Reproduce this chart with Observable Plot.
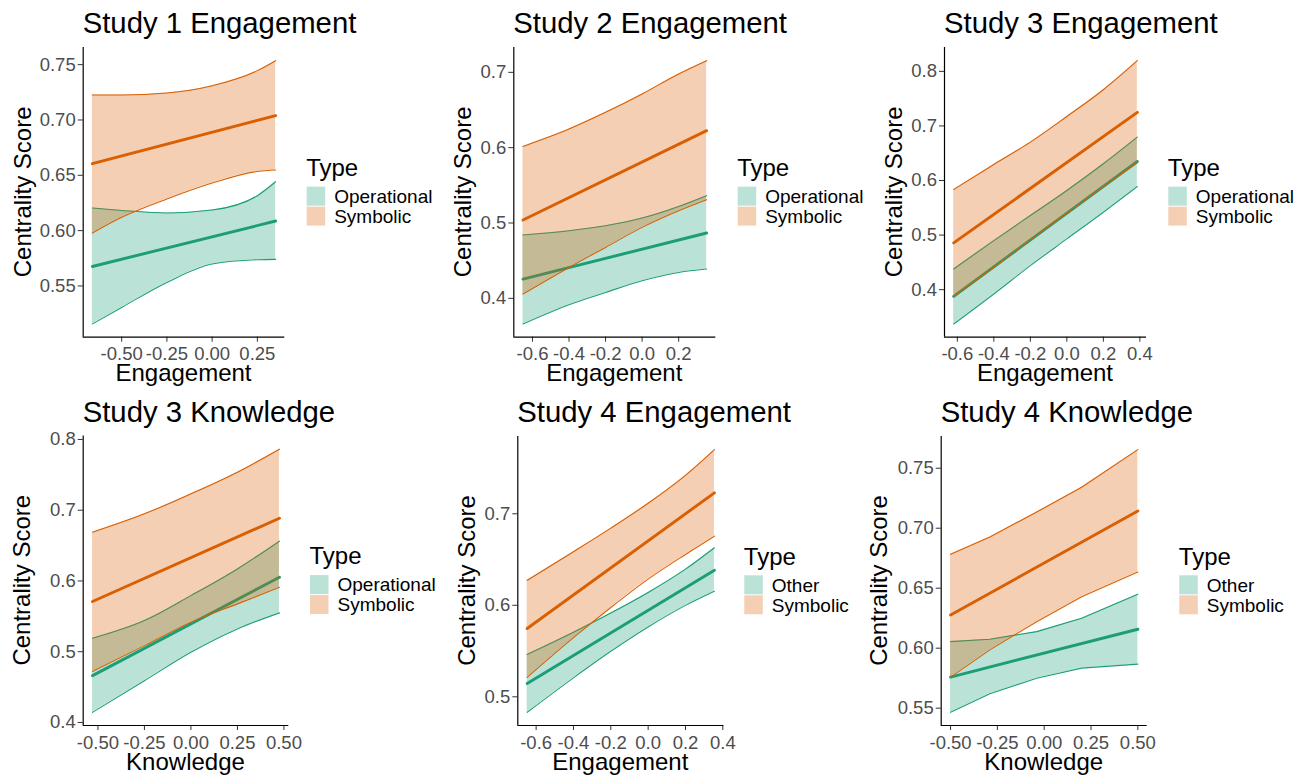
<!DOCTYPE html>
<html>
<head>
<meta charset="utf-8">
<script src="https://cdn.jsdelivr.net/npm/d3@7"></script>
<script src="https://cdn.jsdelivr.net/npm/@observablehq/plot@0.6"></script>
<style>
  body { margin: 0; background: #fff; }
  #fig { position: relative; width: 1310px; height: 778px; overflow: hidden; background: #fff; }
  #fig svg { position: absolute; left: 0; top: 0; }
</style>
</head>
<body>
<div id="fig"></div>
<script>
// ---- Shared categories and colours ----
const typesOperational = ["Operational", "Symbolic"];
const typesOther = ["Other", "Symbolic"];
const typeColors = ["#1B9E77", "#D95F02"];

// ---- Study 1 · Engagement (predicted centrality with 95% CI) ----
const s1eX       = [-0.662, -0.5, -0.25, 0, 0.25, 0.351];
const s1eOpLow   = [0.5156, 0.5306, 0.5532, 0.5698, 0.5737, 0.5740];
const s1eOpHigh  = [0.6204, 0.6182, 0.6160, 0.6186, 0.6316, 0.6442];
const s1eSymLow  = [0.5978, 0.6120, 0.6286, 0.6430, 0.6535, 0.6548];
const s1eSymHigh = [0.7226, 0.7226, 0.7244, 0.7310, 0.7446, 0.7536];
const s1eOpFit   = [0.5676, 0.6087];
const s1eSymFit  = [0.6605, 0.7039];

// ---- Study 2 · Engagement ----
const s2eX       = [-0.652, -0.4, -0.2, 0, 0.2, 0.353];
const s2eOpLow   = [0.3659, 0.3915, 0.4078, 0.4234, 0.4344, 0.4389];
const s2eOpHigh  = [0.4841, 0.4898, 0.4964, 0.5066, 0.5220, 0.5363];
const s2eSymLow  = [0.4057, 0.4410, 0.4676, 0.4942, 0.5163, 0.5310];
const s2eSymHigh = [0.6017, 0.6248, 0.6469, 0.6713, 0.6979, 0.7155];
const s2eOpFit   = [0.4256, 0.4867];
const s2eSymFit  = [0.5040, 0.6226];

// ---- Study 3 · Engagement ----
const s3eX       = [-0.62, -0.4, -0.2, 0, 0.2, 0.386];
const s3eOpLow   = [0.3370, 0.3921, 0.4440, 0.4930, 0.5419, 0.5890];
const s3eOpHigh  = [0.4380, 0.4899, 0.5358, 0.5817, 0.6307, 0.6795];
const s3eSymLow  = [0.3878, 0.4410, 0.4912, 0.5400, 0.5890, 0.6324];
const s3eSymHigh = [0.5835, 0.6294, 0.6703, 0.7174, 0.7664, 0.8196];
const s3eOpFit   = [0.3878, 0.6349];
const s3eSymFit  = [0.4857, 0.7248];

// ---- Study 3 · Knowledge ----
const s3kX       = [-0.529, -0.25, 0, 0.25, 0.476];
const s3kOpLow   = [0.4143, 0.4590, 0.4992, 0.5322, 0.5549];
const s3kOpHigh  = [0.5190, 0.5440, 0.5793, 0.6170, 0.6562];
const s3kSymLow  = [0.4720, 0.5086, 0.5416, 0.5676, 0.5911];
const s3kSymHigh = [0.6689, 0.6949, 0.7232, 0.7538, 0.7863];
const s3kOpFit   = [0.4662, 0.6052];
const s3kSymFit  = [0.5709, 0.6887];

// ---- Study 4 · Engagement ----
const s4eX       = [-0.648, -0.4, -0.2, 0, 0.2, 0.355];
const s4eOpLow   = [0.4830, 0.5207, 0.5497, 0.5763, 0.5999, 0.6154];
const s4eOpHigh  = [0.5462, 0.5705, 0.5915, 0.6140, 0.6395, 0.6629];
const s4eSymLow  = [0.5212, 0.5646, 0.5976, 0.6286, 0.6556, 0.6756];
const s4eSymHigh = [0.6273, 0.6585, 0.6843, 0.7115, 0.7420, 0.7701];
const s4eOpFit   = [0.5146, 0.6382];
const s4eSymFit  = [0.5746, 0.7229];

// ---- Study 4 · Knowledge ----
const s4kX       = [-0.5, -0.29, -0.04, 0.2, 0.5];
const s4kOpLow   = [0.5465, 0.5620, 0.5750, 0.5834, 0.5867];
const s4kOpHigh  = [0.6055, 0.6075, 0.6138, 0.6249, 0.6449];
const s4kSymLow  = [0.5759, 0.5986, 0.6221, 0.6429, 0.6636];
const s4kSymHigh = [0.6783, 0.6927, 0.7135, 0.7342, 0.7655];
const s4kOpFit   = [0.5759, 0.6158];
const s4kSymFit  = [0.6277, 0.7143];

// ---- Tick values ----
const ticksEng25  = [-0.5, -0.25, 0, 0.25];
const ticksEng2   = [-0.6, -0.4, -0.2, 0, 0.2];
const ticksEng4   = [-0.6, -0.4, -0.2, 0, 0.2, 0.4];
const ticksKnow   = [-0.5, -0.25, 0, 0.25, 0.5];
const ticksY1     = [0.55, 0.6, 0.65, 0.7, 0.75];
const ticksY2     = [0.4, 0.5, 0.6, 0.7];
const ticksY3     = [0.4, 0.5, 0.6, 0.7, 0.8];
const ticksY5     = [0.5, 0.6, 0.7];

// Panel layout: plot-area box in page pixels, y-title position, legend x.
const panels = [
  { title: "Study 1 Engagement", xLabel: "Engagement", types: typesOperational,
    x: s1eX, low: [s1eOpLow, s1eSymLow], high: [s1eOpHigh, s1eSymHigh], fit: [s1eOpFit, s1eSymFit],
    xTicks: ticksEng25, xDigits: 2, yTicks: ticksY1, yDigits: 2, curve: "monotone-x",
    box: { l: 82.7, r: 284.3, t: 47, b: 336.7 }, yTitleX: 13.3, keyX: 306.7 },
  { title: "Study 2 Engagement", xLabel: "Engagement", types: typesOperational,
    x: s2eX, low: [s2eOpLow, s2eSymLow], high: [s2eOpHigh, s2eSymHigh], fit: [s2eOpFit, s2eSymFit],
    xTicks: ticksEng2, xDigits: 1, yTicks: ticksY2, yDigits: 1, curve: "monotone-x",
    box: { l: 513.3, r: 715.3, t: 47, b: 336.7 }, yTitleX: 454, keyX: 737.7 },
  { title: "Study 3 Engagement", xLabel: "Engagement", types: typesOperational,
    x: s3eX, low: [s3eOpLow, s3eSymLow], high: [s3eOpHigh, s3eSymHigh], fit: [s3eOpFit, s3eSymFit],
    xTicks: ticksEng4, xDigits: 1, yTicks: ticksY3, yDigits: 1, curve: "monotone-x",
    box: { l: 944, r: 1146, t: 47, b: 336.7 }, yTitleX: 885, keyX: 1168.3 },
  { title: "Study 3 Knowledge", xLabel: "Knowledge", types: typesOperational,
    x: s3kX, low: [s3kOpLow, s3kSymLow], high: [s3kOpHigh, s3kSymHigh], fit: [s3kOpFit, s3kSymFit],
    xTicks: ticksKnow, xDigits: 2, yTicks: ticksY3, yDigits: 1, curve: "monotone-x",
    box: { l: 82.7, r: 288.3, t: 435.5, b: 725 }, yTitleX: 12.7, keyX: 310 },
  { title: "Study 4 Engagement", xLabel: "Engagement", types: typesOther,
    x: s4eX, low: [s4eOpLow, s4eSymLow], high: [s4eOpHigh, s4eSymHigh], fit: [s4eOpFit, s4eSymFit],
    xTicks: ticksEng4, xDigits: 1, yTicks: ticksY5, yDigits: 1, curve: "monotone-x",
    box: { l: 517.3, r: 723.3, t: 436, b: 725 }, yTitleX: 457.3, keyX: 744.3 },
  { title: "Study 4 Knowledge", xLabel: "Knowledge", types: typesOther,
    x: s4kX, low: [s4kOpLow, s4kSymLow], high: [s4kOpHigh, s4kSymHigh], fit: [s4kOpFit, s4kSymFit],
    xTicks: ticksKnow, xDigits: 2, yTicks: ticksY1, yDigits: 2, curve: "linear",
    box: { l: 940.7, r: 1146.7, t: 436, b: 725 }, yTitleX: 870, keyX: 1179.3 }
];

const W = 1310, H = 778;
const FONT = '"Liberation Sans", Arial, Helvetica, sans-serif';
const fig = document.getElementById("fig");

// ggplot-style 5% expansion of a continuous range
function expand(lo, hi) {
  const pad = (hi - lo) * 0.05;
  return [lo - pad, hi + pad];
}
// tint of a colour at 30% opacity over white (legend keys)
function tint(c) {
  const k = d3.rgb(c);
  const m = v => Math.round(255 - 0.3 * (255 - v));
  return d3.rgb(m(k.r), m(k.g), m(k.b)).formatHex();
}

panels.forEach(p => {
  const allLow = d3.min(p.low.flat());
  const allHigh = d3.max(p.high.flat());
  const xDom = expand(d3.min(p.x), d3.max(p.x));
  const yDom = expand(allLow, allHigh);
  const last = p.x.length - 1;

  const marks = [];
  [0, 1].forEach(g => {
    const color = typeColors[g];
    const band = p.x.map((xv, i) => ({ x: xv, low: p.low[g][i], high: p.high[g][i] }));
    const fit = [{ x: p.x[0], y: p.fit[g][0] }, { x: p.x[last], y: p.fit[g][1] }];
    marks.push(Plot.areaY(band, { x: "x", y1: "low", y2: "high", fill: color, fillOpacity: 0.3, curve: p.curve }));
    marks.push(Plot.line(band, { x: "x", y: "low", stroke: color, strokeWidth: 1.1, curve: p.curve }));
    marks.push(Plot.line(band, { x: "x", y: "high", stroke: color, strokeWidth: 1.1, curve: p.curve }));
    marks.push(Plot.line(fit, { x: "x", y: "y", stroke: color, strokeWidth: 2.9 }));
  });

  marks.push(
    Plot.axisX({ ticks: p.xTicks, tickFormat: d => d.toFixed(p.xDigits), tickSize: 5, tickPadding: 5,
      fontSize: 18.5, fill: "#4d4d4d", stroke: "#333", label: null }),
    Plot.axisY({ ticks: p.yTicks, tickFormat: d => d.toFixed(p.yDigits), tickSize: 5, tickPadding: 2.5,
      fontSize: 18.5, fill: "#4d4d4d", stroke: "#333", label: null }),
    Plot.ruleX([xDom[0]], { stroke: "#000", strokeWidth: 1.2 }),
    Plot.ruleY([yDom[0]], { stroke: "#000", strokeWidth: 1.2 })
  );

  const chart = Plot.plot({
    width: W, height: H,
    marginLeft: p.box.l, marginRight: W - p.box.r,
    marginTop: p.box.t, marginBottom: H - p.box.b,
    x: { domain: xDom },
    y: { domain: yDom },
    style: { fontFamily: FONT, background: "transparent", overflow: "visible" },
    marks
  });
  fig.appendChild(chart);
});

// Titles, axis titles and legends
const ann = d3.select(fig).append("svg")
  .attr("width", W).attr("height", H)
  .style("font-family", FONT)
  .style("pointer-events", "none");

panels.forEach(p => {
  const { l, r, t, b } = p.box;
  const cy = (t + b) / 2;

  ann.append("text").attr("x", l).attr("y", t - 14)
    .attr("font-size", 29.3).attr("fill", "#000").text(p.title);

  ann.append("text").attr("x", (l + r) / 2).attr("y", b + 44.5)
    .attr("text-anchor", "middle").attr("font-size", 24).attr("fill", "#000").text(p.xLabel);

  ann.append("text")
    .attr("transform", `translate(${p.yTitleX + 17.2},${cy}) rotate(-90)`)
    .attr("text-anchor", "middle").attr("font-size", 24).attr("fill", "#000")
    .text("Centrality Score");

  ann.append("text").attr("x", p.keyX - 0.5).attr("y", cy - 16)
    .attr("font-size", 24).attr("fill", "#000").text("Type");

  p.types.forEach((name, i) => {
    const top = cy - 5.2 + i * 20;
    ann.append("rect").attr("x", p.keyX).attr("y", top)
      .attr("width", 18.5).attr("height", 19).attr("fill", tint(typeColors[i]));
    ann.append("text").attr("x", p.keyX + 27.5).attr("y", top + 9.5 + 6.8)
      .attr("font-size", 19).attr("fill", "#000").text(name);
  });
});
</script>
</body>
</html>
